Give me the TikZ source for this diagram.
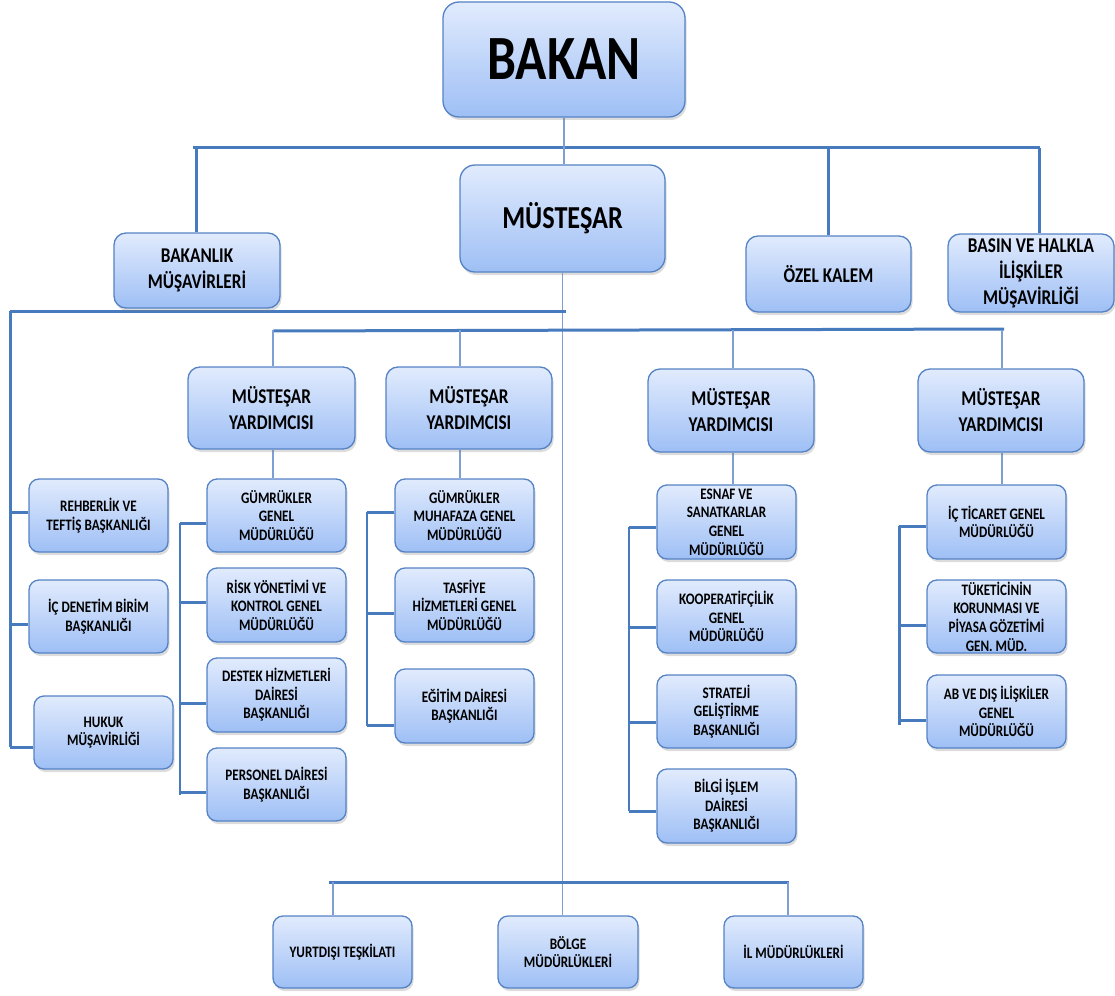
\documentclass[tikz,border=0pt]{standalone}
\usepackage{fontspec}
\setmainfont{Carlito}[FakeStretch=0.82]
\usetikzlibrary{shadows,backgrounds}
\definecolor{boxtop}{RGB}{225,235,253}
\definecolor{boxbot}{RGB}{158,191,245}
\definecolor{boxline}{RGB}{84,130,196}
\definecolor{linethick}{RGB}{72,122,190}
\definecolor{linethin}{RGB}{125,160,212}
\tikzset{
 obox/.style={draw=boxline, line width=1.3pt, rounded corners=10pt, top color=boxtop, bottom color=boxbot, inner sep=0pt, align=center, text=black, drop shadow={opacity=0.28, shadow xshift=1.5pt, shadow yshift=-3pt}},
 fsmall/.style={font=\bfseries\fontsize{16}{18.6}\selectfont},
 fmid/.style={font=\bfseries\fontsize{21}{26}\selectfont, rounded corners=12pt},
 fmus/.style={font=\bfseries\fontsize{32}{38}\selectfont, rounded corners=15pt},
 fbakan/.style={font=\bfseries\fontsize{63}{70}\selectfont, rounded corners=16pt},
 barln/.style={draw=linethick, line width=3pt},
 thinln/.style={draw=linethin, line width=1.5pt},
 midln/.style={draw=linethick, line width=2pt},
}
\newcommand\ob[7]{\node[obox,#6,minimum width={(#4-#2)*1pt},minimum height={(#5-#3)*1pt}] (#1) at ({(#2+#4)/2},{(#3+#5)/2}) {#7};}
\newcommand\stub[4]{\coordinate (#1) at ([yshift=#3]#2.west); \draw[barln] (#1) -- (#1 -| #4);}
\begin{document}
\begin{tikzpicture}[x=1pt,y=-1pt]
\useasboundingbox (0,0) rectangle (1115,995);
% boxes
\ob{bakan}{443}{2}{685}{117}{fbakan}{BAKAN}
\ob{must}{460}{165}{665}{272}{fmus}{MÜSTEŞAR}
\ob{bak}{114}{233}{280}{308}{fmid}{BAKANLIK\\MÜŞAVİRLERİ}
\ob{ozel}{746}{236}{911}{312}{fmid}{ÖZEL KALEM}
\ob{basin}{948}{234}{1114}{312}{fmid}{BASIN VE HALKLA\\İLİŞKİLER\\MÜŞAVİRLİĞİ}
\ob{my1}{188}{367}{355}{449}{fmid}{MÜSTEŞAR\\YARDIMCISI}
\ob{my2}{386}{367}{552}{449}{fmid}{MÜSTEŞAR\\YARDIMCISI}
\ob{my3}{648}{369}{814}{452}{fmid}{MÜSTEŞAR\\YARDIMCISI}
\ob{my4}{918}{369}{1084}{452}{fmid}{MÜSTEŞAR\\YARDIMCISI}
\ob{reh}{29}{479}{168}{552}{fsmall}{REHBERLİK VE\\TEFTİŞ BAŞKANLIĞI}
\ob{icd}{29}{580}{168}{653}{fsmall}{İÇ DENETİM BİRİM\\BAŞKANLIĞI}
\ob{huk}{34}{696}{173}{769}{fsmall}{HUKUK\\MÜŞAVİRLİĞİ}
\ob{gg}{207}{479}{346}{552}{fsmall}{GÜMRÜKLER\\GENEL\\MÜDÜRLÜĞÜ}
\ob{risk}{207}{568}{346}{642}{fsmall}{RİSK YÖNETİMİ VE\\KONTROL GENEL\\MÜDÜRLÜĞÜ}
\ob{destek}{207}{658}{346}{732}{fsmall}{DESTEK HİZMETLERİ\\DAİRESİ\\BAŞKANLIĞI}
\ob{pers}{207}{748}{346}{821}{fsmall}{PERSONEL DAİRESİ\\BAŞKANLIĞI}
\ob{gm}{395}{479}{534}{552}{fsmall}{GÜMRÜKLER\\MUHAFAZA GENEL\\MÜDÜRLÜĞÜ}
\ob{tas}{395}{568}{534}{642}{fsmall}{TASFİYE\\HİZMETLERİ GENEL\\MÜDÜRLÜĞÜ}
\ob{egit}{395}{669}{534}{743}{fsmall}{EĞİTİM DAİRESİ\\BAŞKANLIĞI}
\ob{esn}{657}{485}{796}{559}{fsmall}{ESNAF VE\\SANATKARLAR\\GENEL\\MÜDÜRLÜĞÜ}
\ob{koop}{657}{580}{796}{653}{fsmall}{KOOPERATİFÇİLİK\\GENEL\\MÜDÜRLÜĞÜ}
\ob{str}{657}{675}{796}{748}{fsmall}{STRATEJİ\\GELİŞTİRME\\BAŞKANLIĞI}
\ob{bilgi}{657}{769}{796}{843}{fsmall}{BİLGİ İŞLEM\\DAİRESİ\\BAŞKANLIĞI}
\ob{ict}{927}{485}{1066}{559}{fsmall}{İÇ TİCARET GENEL\\MÜDÜRLÜĞÜ}
\ob{tuk}{927}{580}{1066}{653}{fsmall}{TÜKETİCİNİN\\KORUNMASI VE\\PİYASA GÖZETİMİ\\GEN. MÜD.}
\ob{ab}{927}{675}{1066}{748}{fsmall}{AB VE DIŞ İLİŞKİLER\\GENEL\\MÜDÜRLÜĞÜ}
\ob{yurt}{273}{916}{412}{988}{fsmall}{YURTDIŞI TEŞKİLATI}
\ob{bolge}{498}{916}{638}{988}{fsmall}{BÖLGE\\MÜDÜRLÜKLERİ}
\ob{il}{724}{916}{863}{988}{fsmall}{İL MÜDÜRLÜKLERİ}
% connectors
\begin{scope}[on background layer]
% level 1
\coordinate (b1l) at (193,148); \coordinate (b1r) at (1040,148);
\coordinate (b1a) at (196,148); \coordinate (b1c) at (1039,148);
\draw[barln] (b1l) -- (b1r);
\draw[barln] (b1a) -- (b1a |- bak.north);
\draw[barln] (ozel.north) -- (ozel.north |- b1l);
\draw[barln] (b1c) -- (b1c |- basin.north);
\draw[thinln] (bakan.south) -- (bakan.south |- must.north);
\draw[thinln] (must.south) -- (must.south |- bolge.north);
% level 2 (left staff)
\coordinate (b2l) at (10,311); \coordinate (b2r) at (566,311);
\coordinate (b2b) at (10,747);
\draw[barln] (b2l) -- (b2r);
\draw[barln] (b2l) -- (b2b);
\stub{s1}{reh}{3.5pt}{b2l}
\stub{s2}{icd}{-7.5pt}{b2l}
\stub{s3}{huk}{-14.5pt}{b2l}
% level 3 (deputies)
\coordinate (b3l) at (273,331); \coordinate (b3r) at (1004,329);
\draw[barln] (b3l) -- (b3r);
\coordinate (t1) at (273,330); \coordinate (t2) at (460,330);
\coordinate (t3) at (733,330); \coordinate (t4) at (1002,330);
\draw[thinln] (t1) -- (t1 |- my1.north);
\draw[thinln] (t2) -- (t2 |- my2.north);
\draw[thinln] (t3) -- (t3 |- my3.north);
\draw[thinln] (t4) -- (t4 |- my4.north);
\draw[thinln] (t1 |- my1.south) -- (t1 |- gg.north);
\draw[thinln] (t2 |- my2.south) -- (t2 |- gm.north);
\draw[thinln] (t3 |- my3.south) -- (t3 |- esn.north);
\draw[thinln] (t4 |- my4.south) -- (t4 |- ict.north);
% column brackets
\coordinate (k1a) at (180,523); \coordinate (k1b) at (180,795);
\draw[midln] (k1a) -- (k1b);
\stub{c11}{gg}{-7.5pt}{k1a}
\stub{c12}{risk}{3pt}{k1a}
\stub{c13}{destek}{-8pt}{k1a}
\stub{c14}{pers}{-7.5pt}{k1a}
\coordinate (k2a) at (367,512); \coordinate (k2b) at (367,726);
\draw[midln] (k2a) -- (k2b);
\stub{c21}{gm}{3.5pt}{k2a}
\stub{c22}{tas}{-8pt}{k2a}
\stub{c23}{egit}{-19pt}{k2a}
\coordinate (k3a) at (629,527); \coordinate (k3b) at (629,811);
\draw[midln] (k3a) -- (k3b);
\stub{c31}{esn}{-5pt}{k3a}
\stub{c32}{koop}{-10.5pt}{k3a}
\stub{c33}{str}{-10.5pt}{k3a}
\stub{c34}{bilgi}{-5pt}{k3a}
\coordinate (k4a) at (899,526); \coordinate (k4b) at (899,725);
\draw[barln] (k4a) -- (k4b);
\stub{c41}{ict}{-4pt}{k4a}
\stub{c42}{tuk}{-8.5pt}{k4a}
\stub{c43}{ab}{-8.5pt}{k4a}
% bottom
\coordinate (b4l) at (329,882); \coordinate (b4r) at (789,882);
\coordinate (u1) at (333,882); \coordinate (u3) at (788,882);
\draw[barln] (b4l) -- (b4r);
\draw[thinln] (u1) -- (u1 |- yurt.north);
\draw[thinln] (u3) -- (u3 |- il.north);
\end{scope}
\end{tikzpicture}
\end{document}
